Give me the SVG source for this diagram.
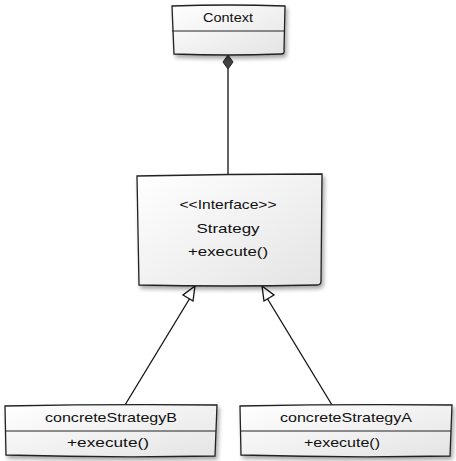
<svg xmlns="http://www.w3.org/2000/svg" width="456" height="461" viewBox="0 0 456 461">
<defs>
<linearGradient id="g" x1="0" y1="0" x2="1" y2="1">
<stop offset="0" stop-color="#ffffff"/>
<stop offset="1" stop-color="#e4e4e4"/>
</linearGradient>
<filter id="sh" x="-10%" y="-10%" width="125%" height="130%">
<feGaussianBlur in="SourceAlpha" stdDeviation="2"/>
<feOffset dx="2" dy="3" result="b"/>
<feComponentTransfer><feFuncA type="linear" slope="0.35"/></feComponentTransfer>
<feMerge><feMergeNode/><feMergeNode in="SourceGraphic"/></feMerge>
</filter>
</defs>
<style>
.box{fill:url(#g);stroke:#222;stroke-width:1.3;filter:url(#sh)}
.div{fill:none;stroke:#222;stroke-width:1.2}
.t{font-family:"Liberation Sans","DejaVu Sans",sans-serif;font-size:13.5px;fill:#111;text-anchor:middle}
.edge{fill:none;stroke:#111;stroke-width:1.3}
.tri{fill:#fff;stroke:#111;stroke-width:1.3}
</style>
<g id="connectors">
<line class="edge" x1="228" y1="69" x2="228" y2="174"/>
<path d="M228 55 L233 62 L228 69 L223 62 Z" fill="#444" stroke="#222" stroke-width="1"/>
<line class="edge" x1="125" y1="405" x2="190" y2="298"/>
<path class="tri" d="M195 286 L183 295 L193 301 Z"/>
<line class="edge" x1="332" y1="405" x2="267" y2="298"/>
<path class="tri" d="M262 286 L274 295 L264 301 Z"/>
</g>
<g id="context">
<path class="box" d="M172 6 Q228 4 285 6 L284 50 Q285 54 281 54 Q228 56 174 54 L172 6 Z"/>
<line class="div" x1="172" y1="31" x2="284" y2="31"/>
<text class="t" x="228" y="22" textLength="50" lengthAdjust="spacingAndGlyphs">Context</text>
</g>
<g id="strategy">
<path class="box" d="M137 176 Q228 174 322 174 L321 281 Q321 285 317 285 Q228 287 139 285 L137 176 Z"/>
<text class="t" x="228" y="209" textLength="97" lengthAdjust="spacingAndGlyphs">&lt;&lt;Interface&gt;&gt;</text>
<text class="t" x="228" y="233" textLength="63" lengthAdjust="spacingAndGlyphs">Strategy</text>
<text class="t" x="228" y="256" textLength="80" lengthAdjust="spacingAndGlyphs">+execute()</text>
</g>
<g id="concreteStrategyB">
<path class="box" d="M5 406 Q110 404 217 405 L215 456 Q110 458 6 455 L5 406 Z"/>
<line class="div" x1="5" y1="431" x2="216" y2="431"/>
<text class="t" x="111" y="422" textLength="132" lengthAdjust="spacingAndGlyphs">concreteStrategyB</text>
<text class="t" x="108" y="447" textLength="82" lengthAdjust="spacingAndGlyphs">+execute()</text>
</g>
<g id="concreteStrategyA">
<path class="box" d="M240 406 Q345 404 452 405 L450 456 Q345 458 241 455 L240 406 Z"/>
<line class="div" x1="240" y1="431" x2="451" y2="431"/>
<text class="t" x="346" y="422" textLength="132" lengthAdjust="spacingAndGlyphs">concreteStrategyA</text>
<text class="t" x="342" y="447" textLength="76" lengthAdjust="spacingAndGlyphs">+execute()</text>
</g>
</svg>
